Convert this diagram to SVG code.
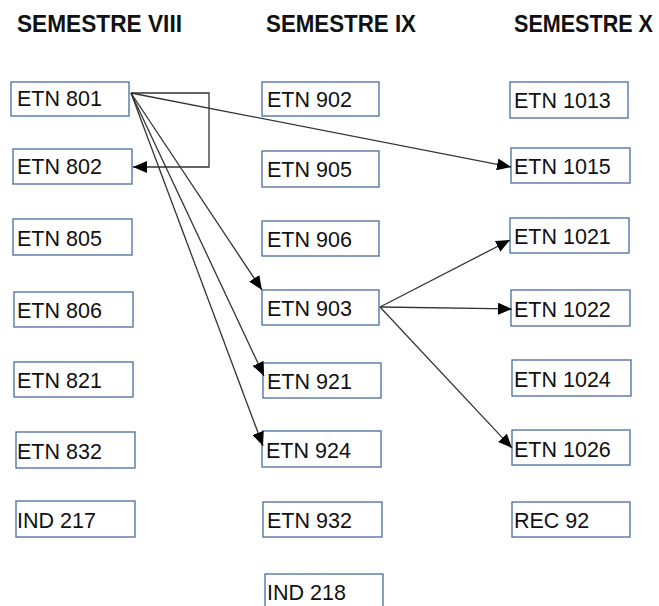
<svg xmlns="http://www.w3.org/2000/svg" width="659" height="606" viewBox="0 0 659 606">
<style>
.box{fill:#fff;stroke:#5676a6;stroke-width:1.4}
.lbl{font-family:"Liberation Sans",Arial,sans-serif;font-size:21.5px;fill:#111}
.hdr{font-family:"Liberation Sans",Arial,sans-serif;font-size:23px;font-weight:bold;fill:#111}
.con{fill:none;stroke:#333;stroke-width:1.3}
</style>
<defs>
<marker id="ah" markerUnits="userSpaceOnUse" markerWidth="14" markerHeight="12" refX="14" refY="6" orient="auto">
<path d="M0,0 L14,6 L0,12 z" fill="#000"/>
</marker>
</defs>
<rect width="659" height="606" fill="#fff"/>
<g id="headers">
<text class="hdr" x="17" y="32" textLength="165" lengthAdjust="spacingAndGlyphs">SEMESTRE VIII</text>
<text class="hdr" x="266" y="32" textLength="150" lengthAdjust="spacingAndGlyphs">SEMESTRE IX</text>
<text class="hdr" x="514" y="32" textLength="139" lengthAdjust="spacingAndGlyphs">SEMESTRE X</text>
</g>
<g id="n801"><rect class="box" x="11" y="82" width="118" height="34"/><text class="lbl" x="17" y="106">ETN 801</text></g>
<g id="n802"><rect class="box" x="13" y="149" width="119" height="35"/><text class="lbl" x="17" y="174">ETN 802</text></g>
<g id="n805"><rect class="box" x="13" y="219" width="119" height="36"/><text class="lbl" x="17" y="246">ETN 805</text></g>
<g id="n806"><rect class="box" x="14" y="292" width="119" height="35"/><text class="lbl" x="17" y="318">ETN 806</text></g>
<g id="n821"><rect class="box" x="14" y="362" width="119" height="35"/><text class="lbl" x="17" y="388">ETN 821</text></g>
<g id="n832"><rect class="box" x="16" y="432" width="119" height="36"/><text class="lbl" x="17" y="459">ETN 832</text></g>
<g id="i217"><rect class="box" x="16" y="501" width="119" height="36"/><text class="lbl" x="17" y="528">IND 217</text></g>

<g id="n902"><rect class="box" x="262" y="82" width="117" height="34"/><text class="lbl" x="267" y="107">ETN 902</text></g>
<g id="n905"><rect class="box" x="262" y="151" width="117" height="36"/><text class="lbl" x="267" y="177">ETN 905</text></g>
<g id="n906"><rect class="box" x="262" y="221" width="117" height="35"/><text class="lbl" x="267" y="247">ETN 906</text></g>
<g id="n903"><rect class="box" x="262" y="290" width="117" height="35"/><text class="lbl" x="267" y="316">ETN 903</text></g>
<g id="n921"><rect class="box" x="263" y="363" width="118" height="35"/><text class="lbl" x="267" y="389">ETN 921</text></g>
<g id="n924"><rect class="box" x="262" y="431" width="119" height="36"/><text class="lbl" x="266" y="458">ETN 924</text></g>
<g id="n932"><rect class="box" x="263" y="502" width="119" height="35"/><text class="lbl" x="267" y="528">ETN 932</text></g>
<g id="i218"><rect class="box" x="265" y="574" width="118" height="40"/><text class="lbl" x="267" y="600">IND 218</text></g>

<g id="n1013"><rect class="box" x="510" y="82" width="118" height="36"/><text class="lbl" x="514" y="108">ETN 1013</text></g>
<g id="n1015"><rect class="box" x="511" y="148" width="119" height="35"/><text class="lbl" x="514" y="174">ETN 1015</text></g>
<g id="n1021"><rect class="box" x="510" y="218" width="119" height="35"/><text class="lbl" x="514" y="244">ETN 1021</text></g>
<g id="n1022"><rect class="box" x="511" y="290" width="119" height="36"/><text class="lbl" x="514" y="317">ETN 1022</text></g>
<g id="n1024"><rect class="box" x="512" y="360" width="119" height="36"/><text class="lbl" x="514" y="387">ETN 1024</text></g>
<g id="n1026"><rect class="box" x="512" y="430" width="118" height="35"/><text class="lbl" x="514" y="457">ETN 1026</text></g>
<g id="r92"><rect class="box" x="512" y="502" width="118" height="35"/><text class="lbl" x="514" y="528">REC 92</text></g>

<g id="connectors">
<path class="con" d="M131,93 H209 V167 H133" marker-end="url(#ah)"/>
<path class="con" d="M131,93 L511,167" marker-end="url(#ah)"/>
<path class="con" d="M131,93 L262,290" marker-end="url(#ah)"/>
<path class="con" d="M131,93 L264,376" marker-end="url(#ah)"/>
<path class="con" d="M131,93 L263,446" marker-end="url(#ah)"/>
<path class="con" d="M380,307 L510,240" marker-end="url(#ah)"/>
<path class="con" d="M380,307 L512,309" marker-end="url(#ah)"/>
<path class="con" d="M380,307 L512,448" marker-end="url(#ah)"/>
</g>
</svg>
